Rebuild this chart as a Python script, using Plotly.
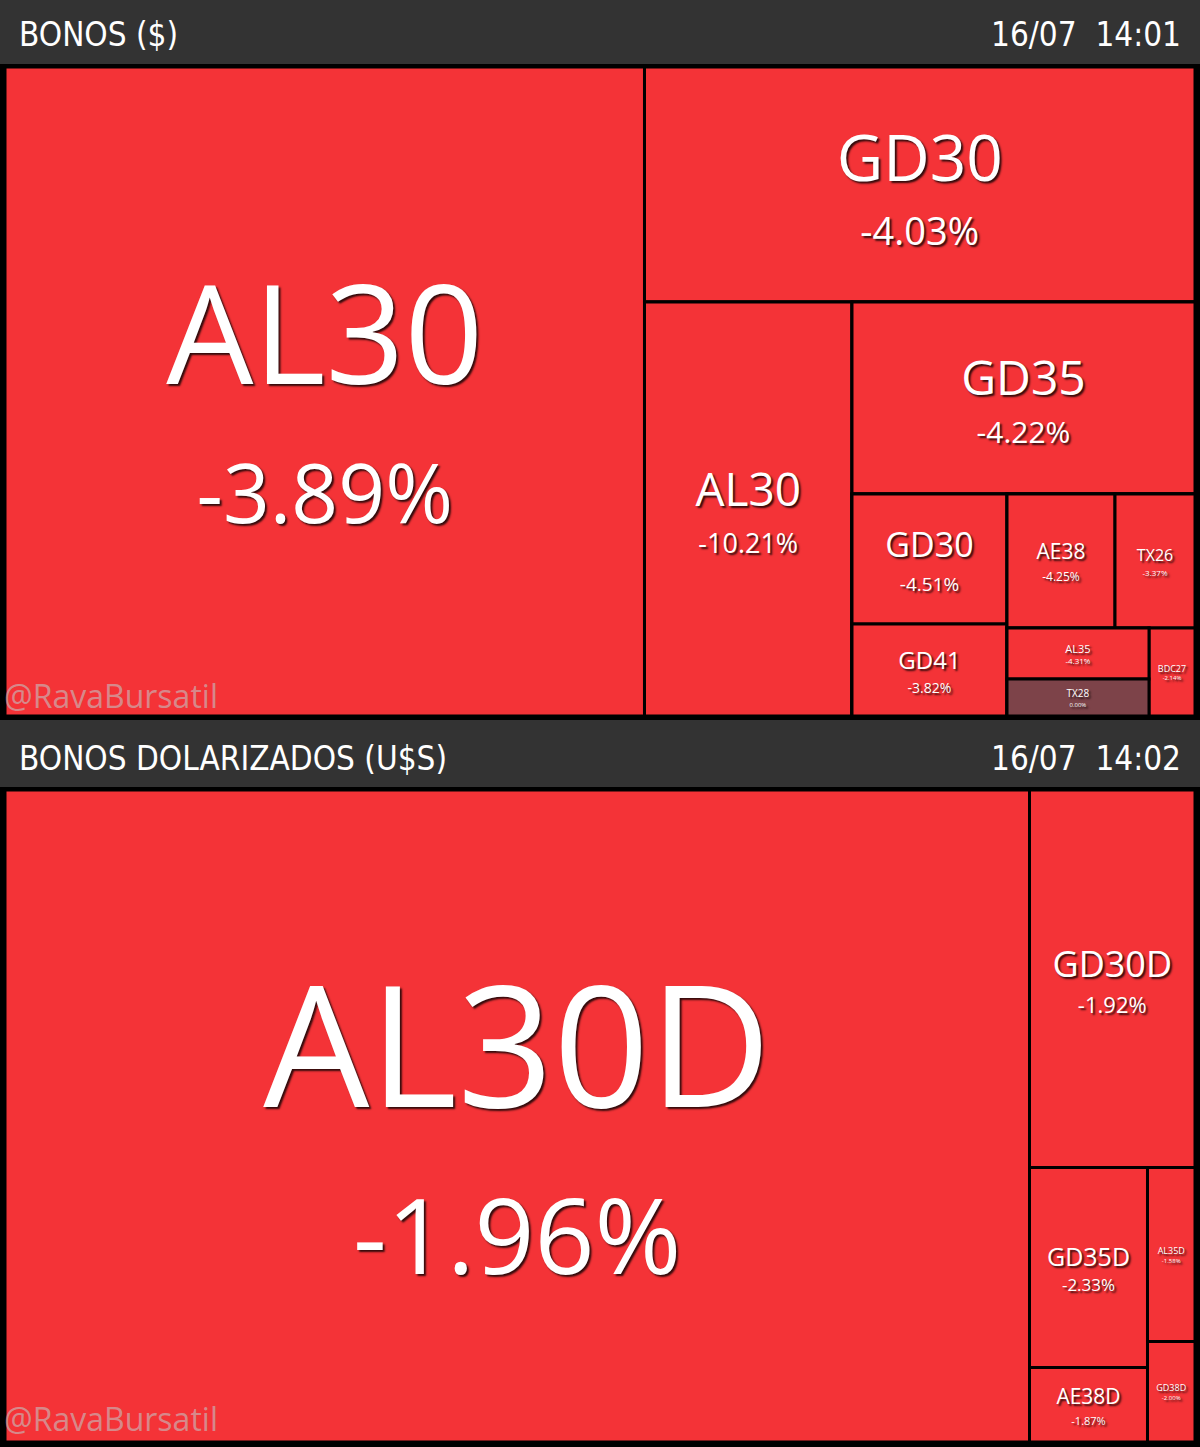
import plotly.graph_objects as go

W, H = 1200, 1447

# ---------------- DATA ----------------
# Panel 1: BONOS ($)
p1_ids     = ["root", "AL30", "R1", "GD30", "S1", "AL30b", "T1", "GD35", "U1", "V1", "GD30s", "GD41",
              "W1", "X1", "AE38", "TX26", "Y1", "Z1", "AL35", "TX28", "BDC27"]
p1_labels  = ["", "AL30", "", "GD30", "", "AL30", "", "GD35", "", "", "GD30", "GD41",
              "", "", "AE38", "TX26", "", "", "AL35", "TX28", "BDC27"]
p1_parents = ["", "root", "root", "R1", "R1", "S1", "S1", "T1", "T1", "U1", "V1", "V1",
              "U1", "W1", "X1", "X1", "W1", "Y1", "Z1", "Z1", "Y1"]
p1_values  = [0, 415036, 0, 129368, 0, 85905, 0, 65856, 0, 0, 20150, 14260,
              0, 0, 14472, 10720, 0, 0, 7242, 5254, 4048]
p1_change  = [None, -3.89, None, -4.03, None, -10.21, None, -4.22, None, None, -4.51, -3.82,
              None, None, -4.25, -3.37, None, None, -4.31, 0.00, -2.14]

# Panel 2: BONOS DOLARIZADOS (U$S)
p2_ids     = ["root", "AL30D", "R2", "GD30D", "S2", "C1", "GD35D", "AE38D", "C2", "AL35D", "GD38D"]
p2_labels  = ["", "AL30D", "", "GD30D", "", "", "GD35D", "AE38D", "", "AL35D", "GD38D"]
p2_parents = ["", "root", "root", "R2", "R2", "S2", "C1", "C1", "S2", "C2", "C2"]
p2_values  = [0, 667974, 0, 62476, 0, 0, 23600, 8791, 0, 8265, 4774]
p2_change  = [None, -1.96, None, -1.92, None, None, -2.33, -1.87, None, -1.58, -2.00]

headers = [("BONOS ($)", "16/07  14:01"), ("BONOS DOLARIZADOS (U$S)", "16/07  14:02")]

# ---------------- STYLE ----------------
RED = "#f43337"
FLAT = "#7d4349"
BG = "#000000"
HEAD = "#333333"

# label font size / pct font size per node (styling)
p1_lsize = {"AL30": 138, "GD30": 64, "AL30b": 46, "GD35": 48, "GD30s": 34, "GD41": 24,
            "AE38": 21, "TX26": 16, "AL35": 11, "TX28": 10, "BDC27": 9}
p1_psize = {"AL30": 82, "GD30": 38, "AL30b": 27, "GD35": 30, "GD30s": 19, "GD41": 14,
            "AE38": 12, "TX26": 8, "AL35": 8, "TX28": 6, "BDC27": 6}
p2_lsize = {"AL30D": 168, "GD30D": 36, "GD35D": 25, "AE38D": 21, "AL35D": 9, "GD38D": 9}
p2_psize = {"AL30D": 105, "GD30D": 22, "GD35D": 17, "AE38D": 11, "AL35D": 6, "GD38D": 6}


def build(ids, labels, parents, values, change, lsize, psize, domain):
    colors, templates, fsizes = [], [], []
    for i, nid in enumerate(ids):
        c = change[i]
        if c is None:
            colors.append(BG)
            templates.append("")
            fsizes.append(10)
        else:
            colors.append(FLAT if c == 0 else RED)
            templates.append(
                f"<span style='font-size:{lsize[nid]}px'>%{{label}}</span><br>"
                f"<span style='font-size:{psize[nid]}px'>%{{customdata:.2f}}%</span>")
            fsizes.append(round(lsize[nid] / 1.3, 1))
    return go.Treemap(
        ids=ids, labels=labels, parents=parents, values=values,
        customdata=[0 if c is None else c for c in change],
        branchvalues="remainder", sort=False,
        tiling=dict(packing="slice-dice", pad=0),
        marker=dict(colors=colors, line=dict(color=BG, width=3),
                    pad=dict(t=0, l=0, r=0, b=0)),
        pathbar=dict(visible=False),
        texttemplate=templates,
        textposition="middle center",
        textfont=dict(family="Open Sans", color="white", size=fsizes,
                      shadow="2px 2px 2px rgba(0,0,0,0.8)"),
        hoverinfo="skip",
        domain=domain,
    )


def py(px):
    return 1 - px / H


fig = go.Figure()
fig.add_trace(build(p1_ids, p1_labels, p1_parents, p1_values, p1_change, p1_lsize, p1_psize,
                    dict(x=[5 / W, 1195 / W], y=[py(716), py(67)])))
fig.add_trace(build(p2_ids, p2_labels, p2_parents, p2_values, p2_change, p2_lsize, p2_psize,
                    dict(x=[5 / W, 1195 / W], y=[py(1442), py(790)])))

shapes = []
annotations = []
HFONT = "Liberation Sans Narrow, DejaVu Sans Condensed, Roboto, sans-serif"
for k, (title, stamp) in enumerate(headers):
    top, bot, mid, wm = [(0, 64, 35, 695), (720, 787, 758, 1418)][k]
    shapes.append(dict(type="rect", xref="paper", yref="paper", x0=0, x1=1,
                       y0=py(bot), y1=py(top), fillcolor=HEAD, line=dict(width=0), layer="below"))
    annotations.append(dict(text=title, xref="paper", yref="paper", x=17 / W, y=py(mid),
                            xanchor="left", yanchor="middle", showarrow=False,
                            font=dict(family=HFONT, size=33, color="white")))
    annotations.append(dict(text=stamp, xref="paper", yref="paper", x=1183 / W, y=py(mid),
                            xanchor="right", yanchor="middle", showarrow=False,
                            font=dict(family=HFONT, size=33, color="white")))
    annotations.append(dict(text="@RavaBursatil", xref="paper", yref="paper", x=2 / W, y=py(wm),
                            xanchor="left", yanchor="middle", showarrow=False,
                            font=dict(family="Open Sans", size=32, color="rgba(195,195,195,0.6)")))

fig.update_layout(
    width=W, height=H, margin=dict(l=0, r=0, t=0, b=0),
    paper_bgcolor=BG, plot_bgcolor=BG,
    shapes=shapes, annotations=annotations, showlegend=False,
)

fig.write_html("out.html", config={"displayModeBar": False},
               post_script="document.body.style.margin='0';document.body.style.overflow='hidden';")
